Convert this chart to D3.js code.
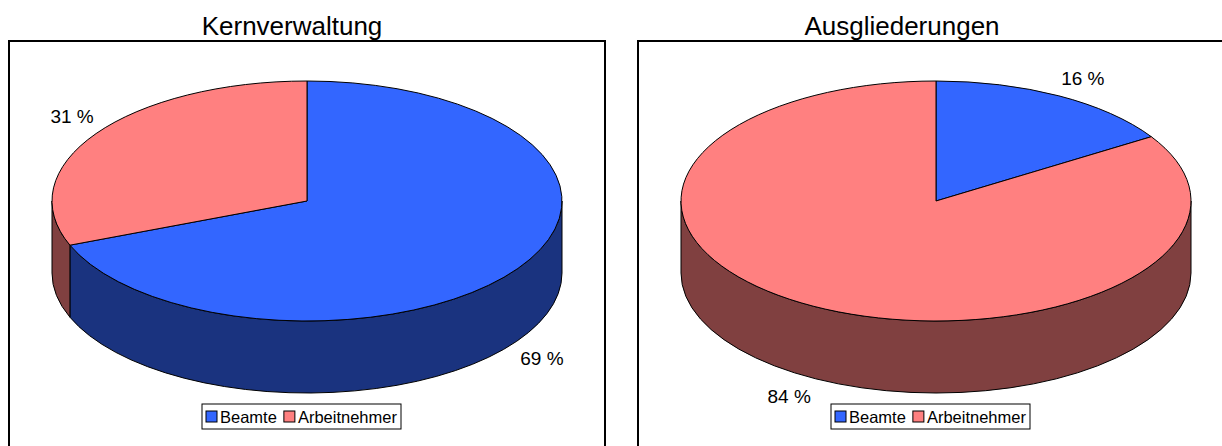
<!DOCTYPE html>
<html><head><meta charset="utf-8">
<script src="https://cdn.jsdelivr.net/npm/d3@7"></script>
<style>body{margin:0;background:#fff}svg{display:block}text{font-family:"Liberation Sans",Arial,sans-serif}</style>
</head><body>
<svg id="c" width="1222" height="446"></svg>
<script>
const categories = ["Beamte", "Arbeitnehmer"];
const chartTitles = ["Kernverwaltung", "Ausgliederungen"];
const kernValues = [69, 31];
const ausValues = [16, 84];
const valueLabels = [["69 %", "31 %"], ["16 %", "84 %"]];
const topColors = ["#3366FF", "#FF8080"];
const sideColors = ["#1A337F", "#804040"];

const svg = d3.select("#c");
const panels = [
  {title: chartTitles[0], values: kernValues, labels: valueLabels[0], x0: 9, x1: 605, cx: 307, tx: 292},
  {title: chartTitles[1], values: ausValues, labels: valueLabels[1], x0: 638, x1: 1240, cx: 936, tx: 902}
];
const cy = 201, rx = 255, ry = 120, depth = 72;
const pie = d3.pie().sort(null).value(d => d).startAngle(0).endAngle(2 * Math.PI);
const color = d3.scaleOrdinal().domain(categories).range(topColors);
const side = d3.scaleOrdinal().domain(categories).range(sideColors);

panels.forEach(p => {
  const g = svg.append("g");
  g.append("rect").attr("x", p.x0).attr("y", 41).attr("width", p.x1 - p.x0).attr("height", 420)
    .attr("fill", "none").attr("stroke", "#000").attr("stroke-width", 2);
  g.append("text").attr("x", p.tx).attr("y", 35)
    .attr("text-anchor", "middle").attr("font-size", 26).text(p.title);

  const pt = (a, dy = 0) => [p.cx + rx * Math.sin(a), cy - ry * Math.cos(a) + dy];
  const arcs = pie(p.values);
  arcs.forEach((a, i) => {
    const s = Math.max(a.startAngle, Math.PI / 2), e = Math.min(a.endAngle, 3 * Math.PI / 2);
    if (e <= s) return;
    const p0 = pt(s), p1 = pt(e), q1 = pt(e, depth), q0 = pt(s, depth);
    const d = `M${p0}A${rx},${ry} 0 0 1 ${p1}L${q1}A${rx},${ry} 0 0 0 ${q0}Z`;
    g.append("path").attr("d", d).attr("fill", side(categories[i])).attr("stroke", "#000").attr("stroke-width", 1);
  });
  arcs.forEach((a, i) => {
    const p0 = pt(a.startAngle), p1 = pt(a.endAngle);
    const large = (a.endAngle - a.startAngle) > Math.PI ? 1 : 0;
    const d = `M${p.cx},${cy}L${p0}A${rx},${ry} 0 ${large} 1 ${p1}Z`;
    g.append("path").attr("d", d).attr("fill", color(categories[i])).attr("stroke", "#000").attr("stroke-width", 1);
  });
  arcs.forEach((a, i) => {
    const m = (a.startAngle + a.endAngle) / 2;
    const c = pt(m, Math.cos(m) < 0 ? depth : 0);
    const x = c[0] + Math.sign(Math.sin(m)) * 24;
    const y = c[1] - Math.sign(Math.cos(m)) * 18;
    g.append("text").attr("x", x).attr("y", y + 7).attr("text-anchor", "middle")
      .attr("font-size", 19).text(p.labels[i]);
  });
  const lx = p.x0 + 193, ly = 404;
  const lg = g.append("g");
  lg.append("rect").attr("x", lx).attr("y", ly).attr("width", 199).attr("height", 25)
    .attr("fill", "#fff").attr("stroke", "#000").attr("stroke-width", 1);
  let xx = lx + 4;
  categories.forEach((cat, i) => {
    lg.append("rect").attr("x", xx).attr("y", ly + 7).attr("width", 11).attr("height", 11)
      .attr("fill", color(cat)).attr("stroke", "#000").attr("stroke-width", 1);
    const t = lg.append("text").attr("x", xx + 14).attr("y", ly + 19).attr("font-size", 16.5).text(cat);
    xx += 14 + t.node().getComputedTextLength() + 7;
  });
});
</script>
</body></html>
